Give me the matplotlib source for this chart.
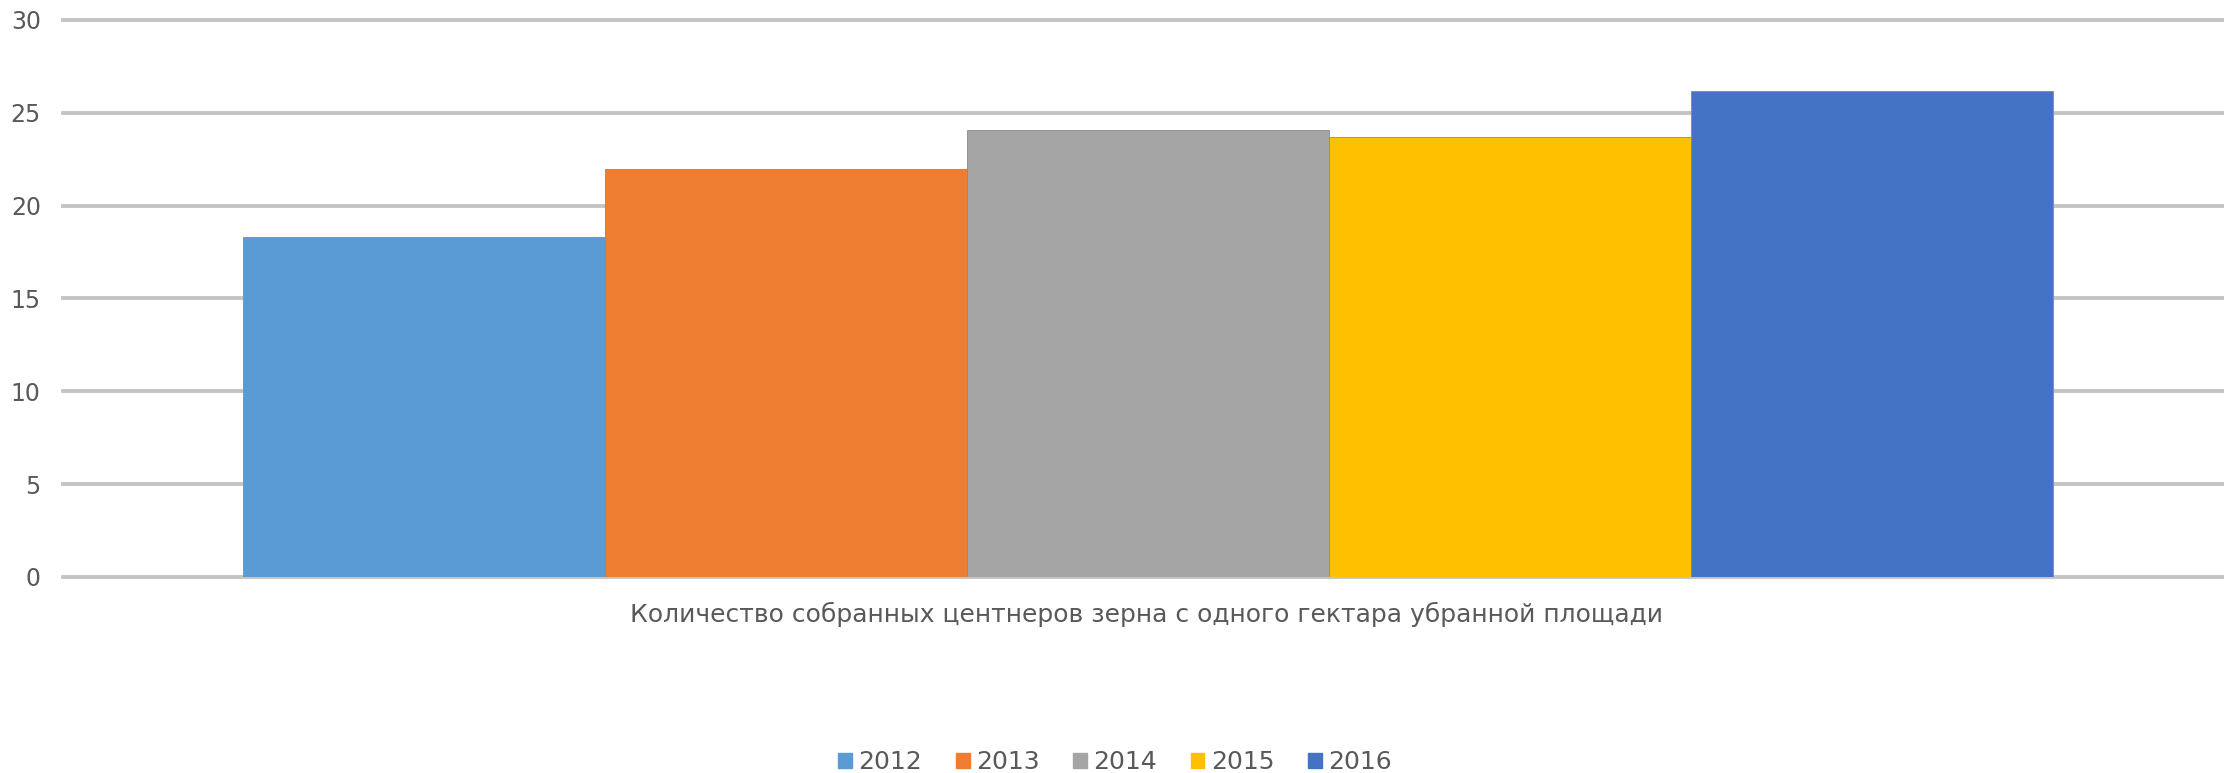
import matplotlib
matplotlib.use("Agg")
import matplotlib.pyplot as plt
from matplotlib.patches import Patch

years = ["2012", "2013", "2014", "2015", "2016"]
values = [18.3, 22.0, 24.1, 23.7, 26.2]
colors = ["#5B9BD5", "#ED7D31", "#A5A5A5", "#FFC000", "#4472C4"]
category = "Количество собранных центнеров зерна с одного гектара убранной площади"
yticks = [0, 5, 10, 15, 20, 25, 30]

W, H = 2224, 773
fig = plt.figure(figsize=(W / 100, H / 100), dpi=100)
ax_left, ax_right = 63, 2224
ax = fig.add_axes([ax_left / W, 1 - 577 / H, (ax_right - ax_left) / W, (577 - 20) / H])

bar_px = 362.0
center_px = 1148.0
offsets = [-2, -1, 0, 1, 2]
for off, v, c in zip(offsets, values, colors):
    ax.bar(off, v, width=1.0, color=c, edgecolor="#8a8a8a", linewidth=0.6, zorder=3)

ax.set_ylim(0, 30)
ax.set_xlim((ax_left - center_px) / bar_px, (ax_right - center_px) / bar_px)
ax.set_yticks(yticks)
ax.set_yticklabels([str(t) for t in yticks], fontsize=17, color="#595959")
ax.tick_params(axis="y", length=0, pad=16)
ax.set_xticks([])
for t in yticks:
    ax.axhline(t, color="#C4C4C4", linewidth=2.8, zorder=1, clip_on=False)
for s in ax.spines.values():
    s.set_visible(False)

fig.text(1146 / W, 1 - 614 / H, category, ha="center", va="center",
         fontsize=18, color="#595959")

handles = [Patch(facecolor=c, edgecolor=c) for c in colors]
fig.legend(handles, years, loc="center", bbox_to_anchor=(1115 / W, 1 - 762 / H),
           ncol=5, frameon=False, fontsize=18, labelcolor="#595959",
           handlelength=0.55, handleheight=0.55, handletextpad=0.25, columnspacing=1.35,
           borderpad=0, borderaxespad=0)

fig.savefig("out.png", dpi=100, facecolor="white")
